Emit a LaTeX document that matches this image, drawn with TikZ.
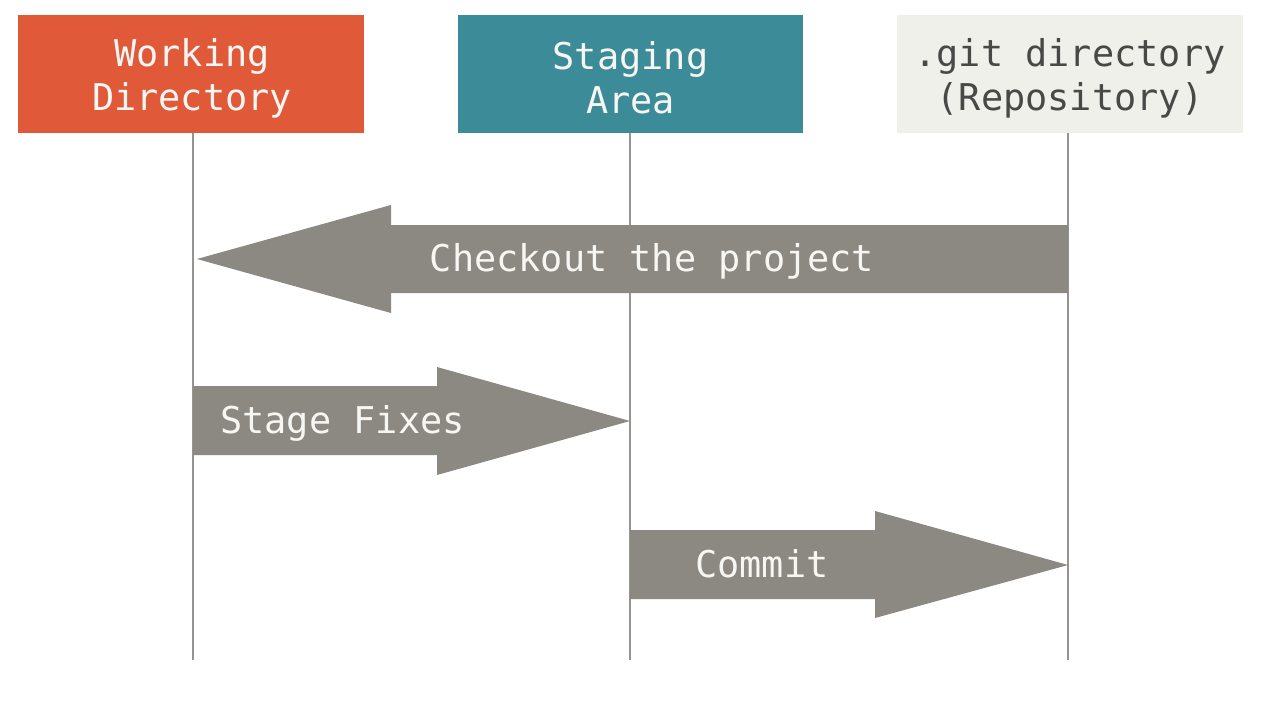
\documentclass[tikz,border=0pt]{standalone}
\usepackage{fontspec}
\setmonofont{DejaVu Sans Mono}
\usetikzlibrary{calc}
\definecolor{wdcol}{RGB}{224,89,57}
\definecolor{sacol}{RGB}{59,139,152}
\definecolor{gitcol}{RGB}{240,240,234}
\definecolor{gittext}{RGB}{72,72,70}
\definecolor{arrcol}{RGB}{140,136,130}
\definecolor{linecol}{RGB}{150,148,145}
\definecolor{lbltext}{RGB}{246,246,242}
\begin{document}
\begin{tikzpicture}[x=0.02cm,y=-0.02cm,
  box/.style={minimum width=6.92cm, minimum height=2.36cm, inner sep=0pt},
  boxtext/.style={align=center, inner sep=0pt,
    font=\ttfamily\fontsize{21}{25}\selectfont, text=lbltext},
  life/.style={draw=linecol, line width=1.1pt},
  bigarrow/.style={fill=arrcol},
  lbl/.style={font=\ttfamily\fontsize{21}{25}\selectfont, text=lbltext, inner sep=0pt}]
\useasboundingbox (0,0) rectangle (1272,724);
\fill[white] (0,0) rectangle (1272,724);
% lifeline ends
\coordinate (wdend) at (193,660);
\coordinate (saend) at (630,660);
\coordinate (gitend) at (1068,660);
% boxes
\node[box, fill=wdcol] (wd) at (191,74) {};
\node[boxtext] (wd-lbl) at ($(wd.center)+(1,4)$) {Working\\Directory};
\node[box, fill=sacol] (sa) at (630.5,74) {};
\node[boxtext] (sa-lbl) at ($(sa.center)+(0,4)$) {Staging\\Area};
\node[box, fill=gitcol] (git) at (1070,74) {};
\node[boxtext, text=gittext] (git-lbl) at ($(git.center)+(0,4)$) {.git directory\\(Repository)};
% lifelines
\draw[life] (wd.south -| wdend) -- (wdend);
\draw[life] (sa.south -| saend) -- (saend);
\draw[life] (git.south -| gitend) -- (gitend);
% arrows
\coordinate (co-tail) at (1068,259);
\coordinate (co-tip) at (197,259);
\fill[bigarrow] ($(co-tail)+(0,-34)$) -- (391,225) -- (391,205) -- (co-tip) -- (391,313) -- (391,293) -- ($(co-tail)+(0,34)$) -- cycle;
\coordinate (sf-tail) at (193,421);
\coordinate (sf-tip) at (630,421);
\fill[bigarrow] ($(sf-tail)+(0,-35)$) -- (437,386) -- (437,367) -- (sf-tip) -- (437,475) -- (437,455) -- ($(sf-tail)+(0,34)$) -- cycle;
\coordinate (cm-tail) at (630,565);
\coordinate (cm-tip) at (1068,565);
\fill[bigarrow] ($(cm-tail)+(0,-35)$) -- (875,530) -- (875,511) -- (cm-tip) -- (875,618) -- (875,599) -- ($(cm-tail)+(0,34)$) -- cycle;
% labels
\node[lbl, anchor=base] (co-lbl) at (652,271) {Checkout the project};
\node[lbl, anchor=base west] (sf-lbl) at (220,433) {Stage Fixes};
\node[lbl, anchor=base] (cm-lbl) at (762,577) {Commit};
\end{tikzpicture}
\end{document}
